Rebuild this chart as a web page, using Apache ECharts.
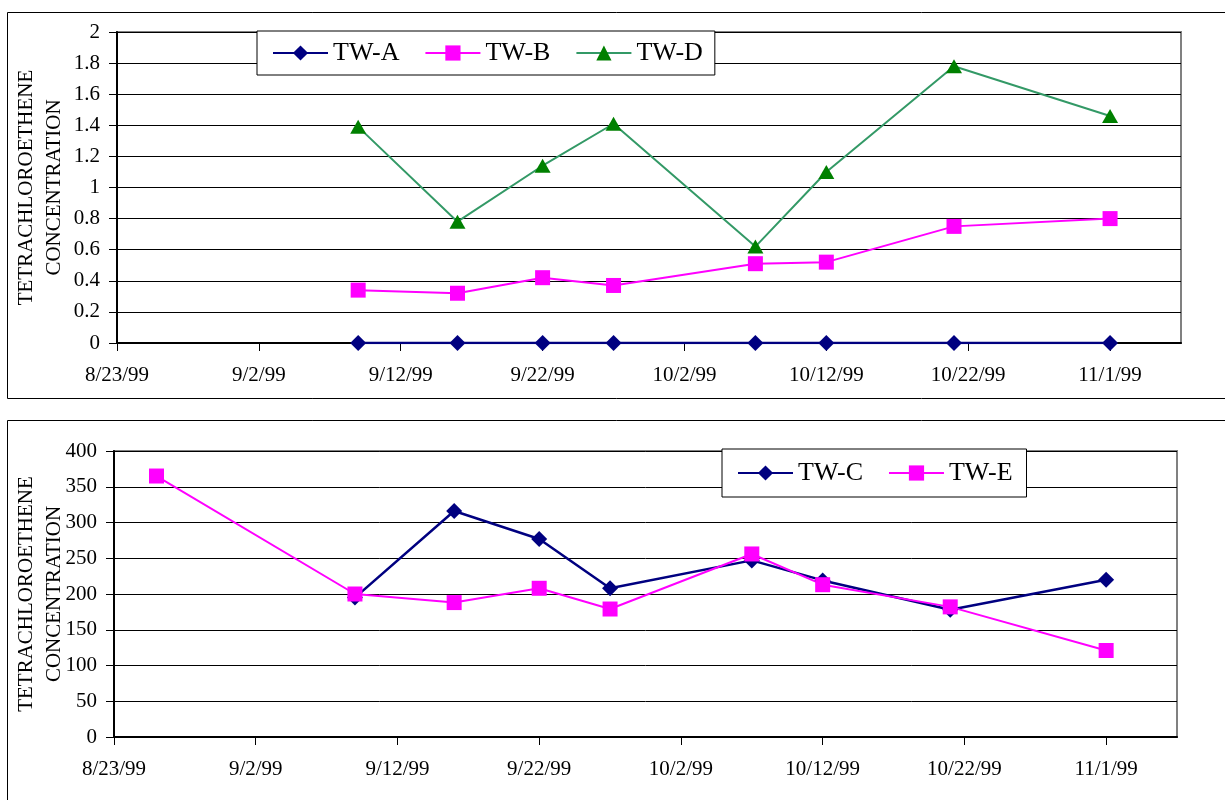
<!DOCTYPE html>
<html>
<head>
<meta charset="utf-8">
<script src="https://cdn.jsdelivr.net/npm/echarts@6/dist/echarts.min.js"></script>
<style>
  html, body { margin: 0; padding: 0; background: #fff; }
  #chart { width: 1225px; height: 800px; }
</style>
</head>
<body>
<div id="chart"></div>
<script>
// Sampling dates and measured concentrations
const topDates = ['9/9/99', '9/16/99', '9/22/99', '9/27/99', '10/7/99', '10/12/99', '10/21/99', '11/1/99'];
const twA = [0, 0, 0, 0, 0, 0, 0, 0];
const twB = [0.34, 0.32, 0.42, 0.37, 0.51, 0.52, 0.75, 0.80];
const twD = [1.39, 0.78, 1.14, 1.41, 0.62, 1.10, 1.78, 1.46];

const twCDates = ['9/9/99', '9/16/99', '9/22/99', '9/27/99', '10/7/99', '10/12/99', '10/21/99', '11/1/99'];
const twC = [195, 316, 277, 208, 247, 219, 178, 220];
const twEDates = ['8/26/99', '9/9/99', '9/16/99', '9/22/99', '9/27/99', '10/7/99', '10/12/99', '10/21/99', '11/1/99'];
const twE = [365, 200, 188, 208, 179, 256, 213, 182, 121];

// Date axis: labelled every 10 days, runs to 11/6/99
const xTickLabels = ['8/23/99', '9/2/99', '9/12/99', '9/22/99', '10/2/99', '10/12/99', '10/22/99', '11/1/99'];
const xAxisEnd = '11/6/99';

const DAY = 86400000;
function parseDate(s) {
  const [m, d, y] = s.split('/').map(Number);
  return Date.UTC(1900 + y, m - 1, d);
}
const t0 = parseDate(xTickLabels[0]);
const dayOf = s => Math.round((parseDate(s) - t0) / DAY);
const fmtDay = v => {
  const dt = new Date(t0 + v * DAY);
  return (dt.getUTCMonth() + 1) + '/' + dt.getUTCDate() + '/' + String(dt.getUTCFullYear() % 100).padStart(2, '0');
};
const pairs = (dates, vals) => dates.map((d, i) => [dayOf(d), vals[i]]);

const FONT = 'Liberation Serif';
const tickDays = xTickLabels.map(dayOf);

function xAxis(gridIndex) {
  return {
    type: 'value', gridIndex, min: 0, max: dayOf(xAxisEnd), interval: 10,
    axisLine: { show: true, onZero: false, lineStyle: { color: '#000', width: 2 } },
    axisTick: { show: true, length: 8, lineStyle: { color: '#000', width: 1 }, customValues: tickDays },
    axisLabel: { customValues: tickDays, formatter: fmtDay, color: '#000', fontFamily: FONT, fontSize: 21, margin: 22 },
    splitLine: { show: false }
  };
}
function yAxis(gridIndex, max, interval, decimals, gap) {
  return {
    type: 'value', gridIndex, min: 0, max, interval,
    name: 'TETRACHLOROETHENE\nCONCENTRATION',
    nameLocation: 'middle', nameRotate: 90, nameGap: gap, nameMoveOverlap: false,
    nameTextStyle: { color: '#000', fontFamily: FONT, fontSize: 21, lineHeight: 28 },
    axisLine: { show: true, lineStyle: { color: '#000', width: 2 } },
    axisTick: { show: true, length: 8, inside: false, lineStyle: { color: '#000' } },
    axisLabel: {
      color: '#000', fontFamily: FONT, fontSize: 21, margin: 17,
      formatter: v => decimals ? String(Math.round(v * 10) / 10) : String(v)
    },
    splitLine: { show: true, lineStyle: { color: '#000', width: 1 } }
  };
}

function lineSeries(name, xi, data, lineColor, markColor, symbol, size, width) {
  return {
    name, type: 'line', xAxisIndex: xi, yAxisIndex: xi, data,
    symbol, symbolSize: size, showAllSymbol: true, animation: false,
    lineStyle: { color: lineColor, width },
    itemStyle: { color: markColor, borderWidth: 0 },
    emphasis: { disabled: true }
  };
}

const legendBase = {
  orient: 'horizontal', itemWidth: 55, itemHeight: 19, itemGap: 25,
  backgroundColor: '#fff', borderColor: '#000', borderWidth: 1,
  textStyle: { color: '#000', fontFamily: FONT, fontSize: 26 },
  selectedMode: false
};

const gridBase = {
  show: true, borderColor: '#808080', borderWidth: 2, backgroundColor: '#fff',
  containLabel: false, outerBoundsMode: 'none'
};

const chart = echarts.init(document.getElementById('chart'), null, { renderer: 'canvas' });
chart.setOption({
  backgroundColor: '#fff',
  animation: false,
  graphic: [
    { type: 'rect', shape: { x: 7.5, y: 12.5, width: 1240, height: 386 }, style: { fill: 'none', stroke: '#000', lineWidth: 1 }, z: -10 },
    { type: 'rect', shape: { x: 7.5, y: 420.5, width: 1240, height: 400 }, style: { fill: 'none', stroke: '#000', lineWidth: 1 }, z: -10 }
  ],
  grid: [
    Object.assign({}, gridBase, { left: 117, top: 32, width: 1064, height: 311 }),
    Object.assign({}, gridBase, { left: 114, top: 451, width: 1063, height: 286 })
  ],
  xAxis: [xAxis(0), xAxis(1)],
  yAxis: [yAxis(0, 2, 0.2, true, 49), yAxis(1, 400, 50, false, 46)],
  legend: [
    Object.assign({}, legendBase, { left: 257, top: 31, padding: [9, 12, 9, 15], data: ['TW-A', 'TW-B', 'TW-D'] }),
    Object.assign({}, legendBase, { left: 722, top: 449, padding: [11, 14, 11, 15], data: ['TW-C', 'TW-E'] })
  ],
  series: [
    lineSeries('TW-A', 0, pairs(topDates, twA), '#000080', '#000080', 'diamond', 16, 2.5),
    lineSeries('TW-B', 0, pairs(topDates, twB), '#FF00FF', '#FF00FF', 'rect', 15, 2),
    lineSeries('TW-D', 0, pairs(topDates, twD), '#339966', '#008000', 'triangle', [16, 14], 2),
    lineSeries('TW-C', 1, pairs(twCDates, twC), '#000080', '#000080', 'diamond', 16, 2.5),
    lineSeries('TW-E', 1, pairs(twEDates, twE), '#FF00FF', '#FF00FF', 'rect', 15, 2)
  ]
});
</script>
</body>
</html>
